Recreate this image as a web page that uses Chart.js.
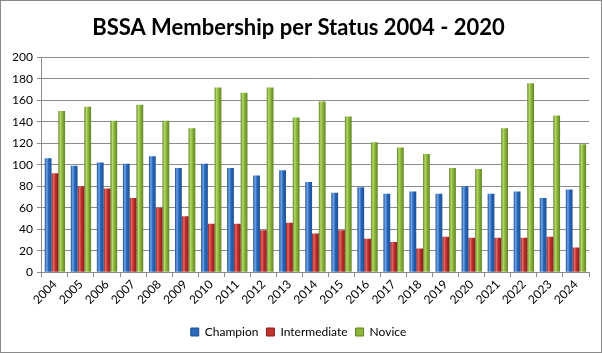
<!DOCTYPE html>
<html>
<head>
<meta charset="utf-8">
<script src="https://cdn.jsdelivr.net/npm/chart.js@4"></script>
<style>
  body { margin: 0; background: #fff; }
  #wrap { width: 600px; height: 351px; border: 1px solid #8a8a8a; position: relative; }
</style>
</head>
<body>
<div id="wrap"><canvas id="chart" width="600" height="351"></canvas></div>
<script>
// data
const years = ['2004','2005','2006','2007','2008','2009','2010','2011','2012','2013','2014',
  '2015','2016','2017','2018','2019','2020','2021','2022','2023','2024'];
const champion = [106, 99, 102, 101, 108, 97, 101, 97, 90, 95, 84, 74, 79, 73, 75, 73, 80, 73, 75, 69, 77];
const intermediate = [92, 80, 78, 69, 60, 52, 45, 45, 39, 46, 36, 39, 31, 28, 22, 33, 32, 32, 32, 33, 23];
const novice = [150, 154, 141, 156, 141, 134, 172, 167, 172, 144, 159, 145, 121, 116, 110, 97, 96, 134, 176, 146, 119];
const yTicks = [0, 20, 40, 60, 80, 100, 120, 140, 160, 180, 200];

const CAT_PCT = 0.78;

// colours: [light edge, mid, dark edge]
const shades = [
  ['#6fa6e8', '#2a68bd', '#1c4f93'],
  ['#e36a6a', '#c0302c', '#8c1e1c'],
  ['#b5d86a', '#8db63a', '#5f8424']
];

// horizontal gradient across every bar, the way Excel draws them
function barFill(ctx) {
  const chart = ctx.chart;
  const ds = ctx.datasetIndex;
  const c = shades[ds];
  const xs = chart.scales.x;
  if (!chart.chartArea || !xs || ctx.dataIndex === undefined) return c[1];
  const step = xs.width / years.length;
  const group = step * CAT_PCT;
  const w = group / 3;
  const left = xs.getPixelForValue(ctx.dataIndex) - group / 2 + ds * w;
  const g = chart.ctx.createLinearGradient(left, 0, left + w, 0);
  g.addColorStop(0, c[2]);
  g.addColorStop(0.3, c[0]);
  g.addColorStop(0.55, c[1]);
  g.addColorStop(1, c[2]);
  return g;
}

function makeSet(label, data, idx) {
  return {
    label: label,
    data: data,
    backgroundColor: barFill,
    borderColor: shades[idx][2],
    borderWidth: 0,
    categoryPercentage: CAT_PCT,
    barPercentage: 1.0
  };
}

new Chart(document.getElementById('chart'), {
  type: 'bar',
  data: {
    labels: years,
    datasets: [
      makeSet('Champion', champion, 0),
      makeSet('Intermediate', intermediate, 1),
      makeSet('Novice', novice, 2)
    ]
  },
  options: {
    responsive: false,
    animation: false,
    layout: { padding: { left: 7, right: 12, top: 2, bottom: 4 } },
    plugins: {
      title: {
        display: true,
        text: 'BSSA Membership per Status 2004 - 2020',
        color: '#000',
        font: { family: 'Lato', size: 22, weight: 'bold' },
        padding: { top: 12, bottom: 16 }
      },
      legend: {
        position: 'bottom',
        labels: {
          color: '#000',
          font: { family: 'Lato', size: 12 },
          boxWidth: 8,
          boxHeight: 8,
          padding: 8,
          generateLabels: (chart) => chart.data.datasets.map((d, i) => ({
            text: d.label,
            fillStyle: shades[i][1],
            strokeStyle: shades[i][2],
            lineWidth: 1,
            datasetIndex: i
          }))
        }
      },
      tooltip: { enabled: false }
    },
    scales: {
      x: {
        grid: { drawOnChartArea: false, color: '#8c8c8c', tickLength: 5 },
        border: { color: '#8c8c8c' },
        afterFit: (axis) => { axis.height += 11; },
        ticks: {
          color: '#000',
          font: { family: 'Lato', size: 12 },
          minRotation: 45,
          maxRotation: 45,
          autoSkip: false,
          padding: 0
        }
      },
      y: {
        min: 0,
        max: 200,
        afterBuildTicks: (axis) => { axis.ticks = yTicks.map(v => ({ value: v })); },
        grid: { color: '#8c8c8c', tickLength: 5 },
        border: { color: '#8c8c8c' },
        ticks: {
          color: '#000',
          font: { family: 'Lato', size: 12 },
          padding: 4
        }
      }
    }
  }
});
</script>
</body>
</html>
